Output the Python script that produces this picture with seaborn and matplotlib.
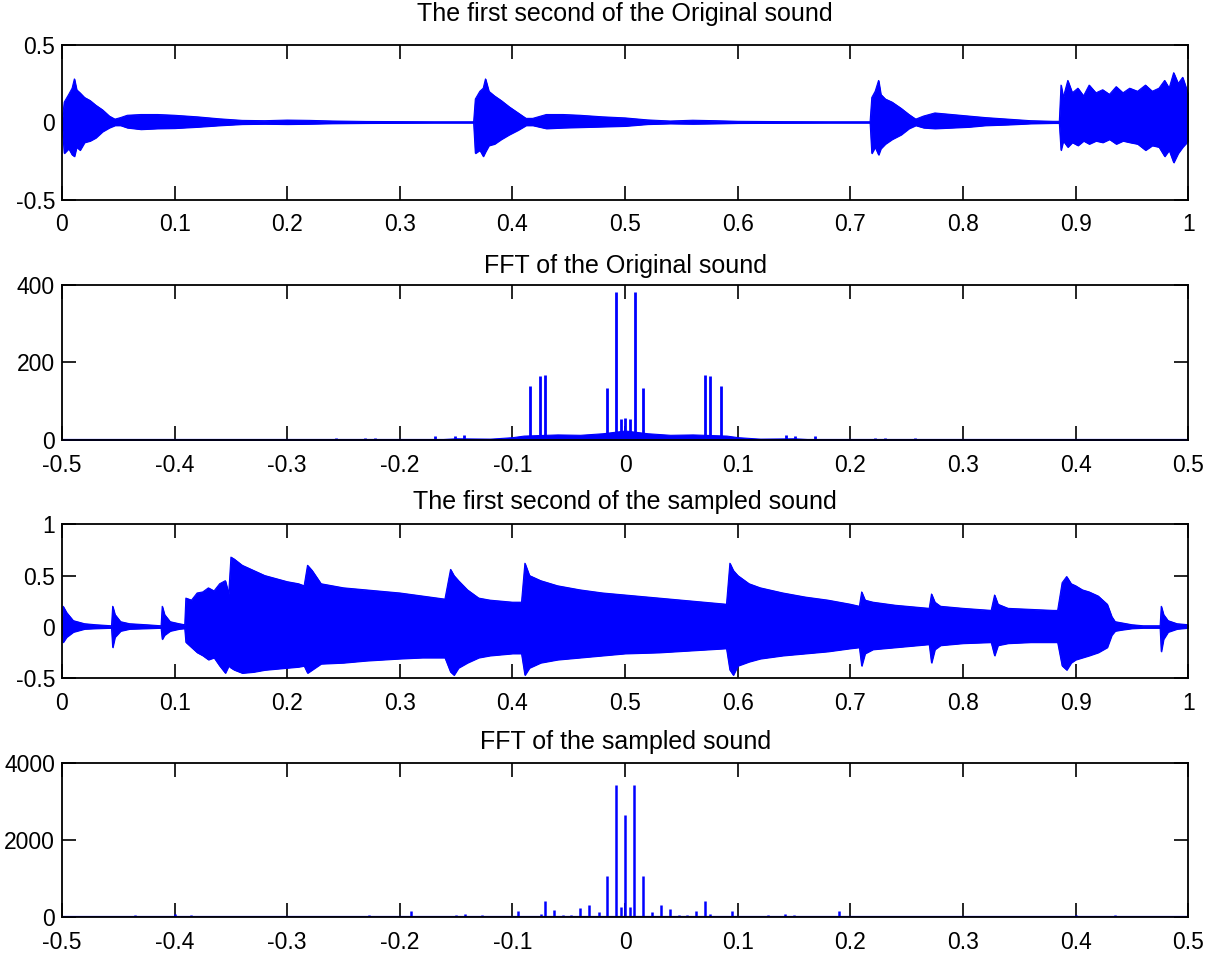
import numpy as np
import matplotlib
matplotlib.use("Agg")
import matplotlib.pyplot as plt
import seaborn as sns

# --- Original sound, first second: envelope (time s, upper, lower)
orig_t = [0.000, 0.002, 0.006, 0.009, 0.011, 0.013, 0.016, 0.020, 0.025, 0.030, 0.036,
          0.042, 0.047, 0.052, 0.058, 0.070, 0.085, 0.100, 0.120, 0.140, 0.160, 0.180,
          0.200, 0.220, 0.240, 0.270, 0.300, 0.330, 0.3655, 0.367, 0.371, 0.374, 0.376,
          0.379, 0.384, 0.390, 0.397, 0.405, 0.412, 0.418, 0.430, 0.445, 0.460, 0.480,
          0.500, 0.520, 0.540, 0.560, 0.580, 0.600, 0.640, 0.680, 0.7175, 0.719, 0.722,
          0.725, 0.727, 0.731, 0.737, 0.745, 0.752, 0.758, 0.765, 0.775, 0.790, 0.805,
          0.820, 0.840, 0.860, 0.880, 0.8855, 0.887, 0.889, 0.893, 0.897, 0.902, 0.907,
          0.912, 0.918, 0.924, 0.930, 0.936, 0.942, 0.948, 0.955, 0.962, 0.968, 0.974,
          0.979, 0.983, 0.987, 0.991, 0.995, 1.000]
orig_hi = [0.00, 0.13, 0.18, 0.22, 0.28, 0.21, 0.19, 0.16, 0.14, 0.11, 0.08,
           0.04, 0.02, 0.03, 0.045, 0.05, 0.05, 0.045, 0.035, 0.022, 0.012, 0.010,
           0.014, 0.012, 0.008, 0.005, 0.004, 0.003, 0.003, 0.15, 0.20, 0.22, 0.28,
           0.20, 0.17, 0.14, 0.10, 0.06, 0.025, 0.025, 0.05, 0.05, 0.045, 0.035,
           0.028, 0.015, 0.008, 0.013, 0.010, 0.006, 0.004, 0.003, 0.003, 0.16, 0.20,
           0.27, 0.18, 0.15, 0.13, 0.09, 0.05, 0.02, 0.04, 0.06, 0.05, 0.04,
           0.03, 0.02, 0.01, 0.006, 0.006, 0.24, 0.16, 0.27, 0.19, 0.22, 0.17,
           0.24, 0.19, 0.21, 0.18, 0.23, 0.19, 0.22, 0.20, 0.24, 0.20, 0.22,
           0.27, 0.22, 0.32, 0.25, 0.29, 0.18]
orig_lo = [0.00, -0.20, -0.17, -0.21, -0.22, -0.16, -0.18, -0.13, -0.12, -0.10, -0.06,
           -0.035, -0.02, -0.02, -0.035, -0.045, -0.04, -0.038, -0.03, -0.02, -0.012, -0.010,
           -0.012, -0.010, -0.007, -0.005, -0.004, -0.003, -0.003, -0.20, -0.18, -0.22, -0.19,
           -0.15, -0.14, -0.11, -0.08, -0.05, -0.02, -0.02, -0.04, -0.035, -0.032, -0.028,
           -0.024, -0.012, -0.008, -0.010, -0.008, -0.005, -0.004, -0.003, -0.003, -0.20, -0.16,
           -0.21, -0.17, -0.14, -0.11, -0.08, -0.04, -0.02, -0.035, -0.04, -0.035, -0.03,
           -0.02, -0.015, -0.008, -0.005, -0.005, -0.18, -0.12, -0.16, -0.13, -0.15, -0.12,
           -0.14, -0.12, -0.13, -0.11, -0.14, -0.12, -0.13, -0.14, -0.18, -0.15, -0.16,
           -0.22, -0.18, -0.26, -0.20, -0.16, -0.12]

# --- FFT of the original sound: main peaks (normalised frequency, magnitude)
fft1_f = [-0.257, -0.231, -0.222, -0.169, -0.151, -0.143, -0.0847, -0.0756, -0.0707,
          -0.0157, -0.0084, -0.004, 0.0, 0.004, 0.0084, 0.0157, 0.0707, 0.0756, 0.0847,
          0.143, 0.151, 0.169, 0.222, 0.231, 0.257]
fft1_h = [5, 6, 6, 10, 10, 13, 140, 165, 167,
          133, 380, 55, 58, 55, 380, 133, 167, 165, 140,
          13, 10, 10, 6, 5, 5]
# low-level floor around the centre
floor1_f = [-0.5, -0.18, -0.15, -0.12, -0.10, -0.09, -0.06, -0.04, -0.02, 0.0,
            0.02, 0.04, 0.06, 0.09, 0.10, 0.12, 0.15, 0.18, 0.5]
floor1_h = [0, 0, 5, 4, 8, 12, 15, 14, 18, 25,
            18, 14, 15, 12, 8, 4, 5, 0, 0]

# --- Sampled sound, first second: envelope (time s, upper, lower)
samp_t = [0.000, 0.001, 0.004, 0.010, 0.020, 0.030, 0.044, 0.045, 0.047, 0.052, 0.060,
          0.075, 0.088, 0.089, 0.091, 0.096, 0.104, 0.109, 0.110, 0.115, 0.120, 0.125,
          0.130, 0.135, 0.140, 0.145, 0.148, 0.150, 0.153, 0.160, 0.170, 0.180, 0.190,
          0.200, 0.210, 0.215, 0.218, 0.222, 0.230, 0.250, 0.270, 0.300, 0.320, 0.340,
          0.345, 0.348, 0.352, 0.360, 0.370, 0.380, 0.400, 0.408, 0.411, 0.415, 0.425,
          0.440, 0.460, 0.480, 0.500, 0.530, 0.560, 0.590, 0.593, 0.596, 0.600, 0.610,
          0.620, 0.640, 0.660, 0.680, 0.700, 0.708, 0.710, 0.713, 0.720, 0.740, 0.760,
          0.770, 0.772, 0.775, 0.780, 0.800, 0.825, 0.828, 0.831, 0.840, 0.860, 0.880,
          0.884, 0.888, 0.892, 0.896, 0.900, 0.906, 0.912, 0.920, 0.928, 0.932, 0.935,
          0.940, 0.950, 0.960, 0.975, 0.976, 0.978, 0.982, 0.990, 1.000]
samp_hi = [0.00, 0.20, 0.14, 0.06, 0.03, 0.02, 0.01, 0.20, 0.12, 0.05, 0.03,
           0.02, 0.01, 0.20, 0.12, 0.05, 0.03, 0.02, 0.28, 0.26, 0.33, 0.34,
           0.38, 0.35, 0.42, 0.45, 0.32, 0.68, 0.66, 0.60, 0.55, 0.50, 0.47,
           0.44, 0.42, 0.40, 0.60, 0.55, 0.42, 0.38, 0.36, 0.33, 0.30, 0.27,
           0.56, 0.50, 0.45, 0.36, 0.28, 0.26, 0.24, 0.24, 0.62, 0.50, 0.45,
           0.40, 0.36, 0.33, 0.31, 0.28, 0.25, 0.22, 0.62, 0.55, 0.50, 0.42,
           0.38, 0.33, 0.29, 0.26, 0.22, 0.20, 0.34, 0.26, 0.24, 0.21, 0.19,
           0.18, 0.32, 0.24, 0.20, 0.18, 0.16, 0.31, 0.22, 0.18, 0.17, 0.16,
           0.16, 0.43, 0.49, 0.42, 0.40, 0.36, 0.34, 0.30, 0.22, 0.10, 0.05,
           0.04, 0.02, 0.01, 0.01, 0.20, 0.12, 0.06, 0.03, 0.02]
samp_lo = [0.00, -0.15, -0.10, -0.05, -0.02, -0.015, -0.01, -0.20, -0.10, -0.04, -0.02,
           -0.015, -0.01, -0.12, -0.08, -0.04, -0.02, -0.015, -0.15, -0.20, -0.25, -0.28,
           -0.32, -0.30, -0.38, -0.45, -0.38, -0.40, -0.42, -0.45, -0.44, -0.42, -0.41,
           -0.40, -0.39, -0.38, -0.45, -0.42, -0.36, -0.35, -0.33, -0.31, -0.30, -0.30,
           -0.44, -0.47, -0.40, -0.35, -0.30, -0.28, -0.26, -0.26, -0.47, -0.40, -0.35,
           -0.32, -0.30, -0.28, -0.26, -0.25, -0.23, -0.21, -0.42, -0.47, -0.38, -0.34,
           -0.31, -0.28, -0.26, -0.24, -0.21, -0.20, -0.38, -0.26, -0.22, -0.20, -0.18,
           -0.17, -0.35, -0.22, -0.18, -0.16, -0.15, -0.28, -0.18, -0.16, -0.15, -0.15,
           -0.15, -0.38, -0.42, -0.35, -0.32, -0.30, -0.28, -0.25, -0.20, -0.08, -0.04,
           -0.03, -0.015, -0.01, -0.01, -0.24, -0.12, -0.05, -0.02, -0.01]

# --- FFT of the sampled sound: peaks (normalised frequency, magnitude)
fft2_f = [-0.435, -0.40, -0.385, -0.325, -0.24, -0.227, -0.19, -0.15, -0.142, -0.127,
          -0.095, -0.075, -0.071, -0.063, -0.055, -0.048, -0.040, -0.032, -0.0235,
          -0.016, -0.0083, -0.004, 0.0, 0.004, 0.0083, 0.016,
          0.0235, 0.032, 0.040, 0.048, 0.055, 0.063, 0.071, 0.075, 0.095,
          0.127, 0.142, 0.150, 0.19, 0.227, 0.24, 0.325, 0.385, 0.40, 0.435]
fft2_h = [50, 60, 40, 15, 20, 40, 150, 40, 80, 50,
          150, 80, 410, 180, 40, 40, 230, 300, 130,
          1063, 3440, 250, 2660, 250, 3440, 1063,
          130, 300, 215, 40, 40, 155, 406, 80, 155,
          40, 60, 40, 140, 30, 20, 15, 30, 40, 40]

titles = ["The first second of the Original sound", "FFT of the Original sound",
          "The first second of the sampled sound", "FFT of the sampled sound"]
time_ticks = [0, 0.1, 0.2, 0.3, 0.4, 0.5, 0.6, 0.7, 0.8, 0.9, 1]
time_labels = ["0", "0.1", "0.2", "0.3", "0.4", "0.5", "0.6", "0.7", "0.8", "0.9", "1"]
freq_ticks = [-0.5, -0.4, -0.3, -0.2, -0.1, 0, 0.1, 0.2, 0.3, 0.4, 0.5]
freq_labels = ["-0.5", "-0.4", "-0.3", "-0.2", "-0.1", "0", "0.1", "0.2", "0.3", "0.4", "0.5"]
y_ticks = [[-0.5, 0, 0.5], [0, 200, 400], [-0.5, 0, 0.5, 1], [0, 2000, 4000]]
y_labels = [["-0.5", "0", "0.5"], ["0", "200", "400"], ["-0.5", "0", "0.5", "1"],
            ["0", "2000", "4000"]]

sns.set_style("ticks")
plt.rcParams["font.family"] = ["Liberation Sans", "DejaVu Sans"]
plt.rcParams["text.color"] = "black"

BLUE = "#0000ff"
fig = plt.figure(figsize=(12.15, 9.55), dpi=100)
boxes = [[0.051, 0.791, 0.927, 0.162],
         [0.051, 0.539, 0.927, 0.163],
         [0.051, 0.290, 0.927, 0.161],
         [0.051, 0.040, 0.927, 0.161]]
title_pads = [17, 8, 11, 10]
axes = [fig.add_axes(b) for b in boxes]

# 1. Original waveform
ax = axes[0]
ax.fill_between(orig_t, orig_lo, orig_hi, color=BLUE, lw=0.8)
sns.lineplot(x=orig_t, y=orig_hi, ax=ax, color=BLUE, lw=0.8)
sns.lineplot(x=orig_t, y=orig_lo, ax=ax, color=BLUE, lw=0.8)
ax.set_xlim(0, 1)
ax.set_ylim(-0.5, 0.5)

# 2. FFT of original
ax = axes[1]
ax.fill_between(floor1_f, 0, floor1_h, color=BLUE, lw=0.8)
ax.vlines(fft1_f, 0, fft1_h, color=BLUE, lw=2.0)
ax.axhline(0, color=BLUE, lw=1.6)
ax.set_xlim(-0.5, 0.5)
ax.set_ylim(0, 400)

# 3. Sampled waveform
ax = axes[2]
ax.fill_between(samp_t, samp_lo, samp_hi, color=BLUE, lw=0.8)
sns.lineplot(x=samp_t, y=samp_hi, ax=ax, color=BLUE, lw=0.8)
sns.lineplot(x=samp_t, y=samp_lo, ax=ax, color=BLUE, lw=0.8)
ax.set_xlim(0, 1)
ax.set_ylim(-0.5, 1)

# 4. FFT of sampled
ax = axes[3]
ax.vlines(fft2_f, 0, fft2_h, color=BLUE, lw=1.8)
sns.lineplot(x=[-0.5, 0.5], y=[0, 0], ax=ax, color=BLUE, lw=1.6)
ax.set_xlim(-0.5, 0.5)
ax.set_ylim(0, 4000)

for i, ax in enumerate(axes):
    if i in (0, 2):
        ax.set_xticks(time_ticks)
        ax.set_xticklabels(time_labels)
    else:
        ax.set_xticks(freq_ticks)
        ax.set_xticklabels(freq_labels)
    ax.set_yticks(y_ticks[i])
    ax.set_yticklabels(y_labels[i])
    ax.tick_params(direction="in", length=10, width=1.2, top=True, right=True,
                   labelsize=16.5, colors="black")
    ax.tick_params(axis="x", pad=10)
    ax.tick_params(axis="y", pad=5)
    for s in ax.spines.values():
        s.set_visible(True)
        s.set_linewidth(1.3)
        s.set_color("black")
    ax.set_title(titles[i], fontsize=18, pad=title_pads[i], color="black")

fig.savefig("out.png", dpi=100, facecolor="white")
